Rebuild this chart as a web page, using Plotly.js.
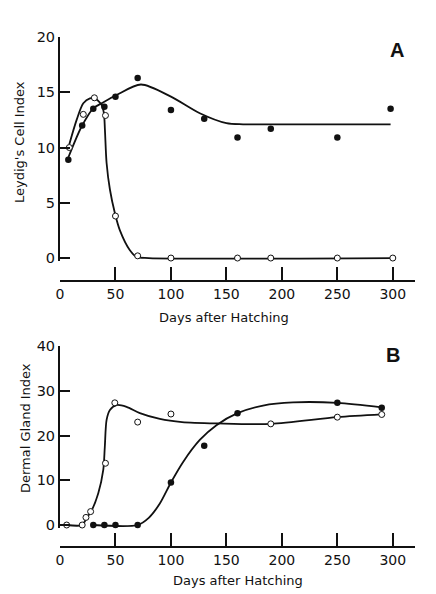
<!DOCTYPE html>
<html>
<head>
<meta charset="utf-8">
<script src="https://cdn.plot.ly/plotly-3.0.1.min.js"></script>
<style>html,body{margin:0;padding:0;background:#fff;}#chart{width:436px;height:594px;}</style>
</head>
<body>
<div id="chart"></div>
<script>
// ---- Panel A: Leydig's cell index ----
const daysAFilled = [7.5, 20, 30, 40, 50, 70, 100, 130, 160, 190, 250, 298];
const leydigFilled = [8.9, 12.0, 13.5, 13.7, 14.6, 16.3, 13.4, 12.6, 10.9, 11.7, 10.9, 13.5];
const daysAOpen = [8.4, 21, 31, 41, 50, 70, 100, 160, 190, 250, 300];
const leydigOpen = [10.0, 13.0, 14.5, 12.9, 3.8, 0.2, 0, 0, 0, 0, 0];
// hand-drawn fit curves (knots)
const fitAFilledX = [7.5, 19.5, 30, 37.5, 51, 73, 100, 126, 150, 165, 200, 298];
const fitAFilledY = [9.1, 11.9, 13.55, 14.0, 14.75, 15.7, 14.6, 13.1, 12.2, 12.1, 12.1, 12.1];
const fitAOpenX = [8.4, 15, 21, 27, 31.5, 37.5, 39.6, 40.5, 42, 45, 49.5, 54, 63, 69, 80, 300];
const fitAOpenY = [10.3, 12.5, 14.0, 14.45, 14.45, 13.85, 13.1, 11.6, 8.6, 6.2, 4.05, 2.5, 0.7, 0.1, 0, 0];

// ---- Panel B: Dermal gland index ----
const daysBFilled = [30, 40, 50, 70, 100, 130, 160, 250, 290];
const glandFilled = [0, 0, 0, 0, 9.5, 17.7, 25.0, 27.3, 26.2];
const daysBOpen = [6, 20, 23.4, 27.6, 41, 49.4, 70, 100, 190, 250, 290];
const glandOpen = [0, 0, 1.7, 3.0, 13.8, 27.3, 23.0, 24.8, 22.6, 24.1, 24.7];
const fitBFilledX = [30, 70, 80, 90, 100, 111, 126, 141, 160, 183, 210, 250, 290];
const fitBFilledY = [0, 0, 1.6, 4.8, 9.5, 14.1, 19.0, 22.3, 25.0, 26.7, 27.4, 27.3, 26.3];
const fitBOpenX = [6, 20, 24, 28, 34.5, 39, 40.4, 42, 45, 51, 60, 72, 90, 110, 142, 190, 250, 290];
const fitBOpenY = [0, 0, 1.6, 3.0, 7.1, 12.3, 17.5, 23.5, 25.7, 26.8, 26.4, 25.0, 23.7, 23.0, 22.7, 22.6, 24.1, 24.7];

const xTicks = [0, 50, 100, 150, 200, 250, 300];
const yTicksA = [0, 5, 10, 15, 20];
const yTicksB = [0, 10, 20, 30, 40];

const W = 436, H = 594;
const FONT = 'DejaVu Sans, sans-serif';
const black = '#111';

function fit(x, y, xa, ya) {
  return {x: x, y: y, xaxis: xa, yaxis: ya, mode: 'lines', cliponaxis: false,
    line: {color: black, width: 1.8, shape: 'spline', smoothing: 0.8}, hoverinfo: 'skip'};
}
function pts(x, y, xa, ya, filled) {
  return {x: x, y: y, xaxis: xa, yaxis: ya, mode: 'markers', cliponaxis: false,
    marker: {size: filled ? 6.5 : 6, color: filled ? black : '#fff',
      line: {color: black, width: filled ? 0 : 1}}};
}

const data = [
  fit(fitAFilledX, fitAFilledY, 'x', 'y'),
  fit(fitAOpenX, fitAOpenY, 'x', 'y'),
  pts(daysAFilled, leydigFilled, 'x', 'y', true),
  pts(daysAOpen, leydigOpen, 'x', 'y', false),
  fit(fitBFilledX, fitBFilledY, 'x2', 'y2'),
  fit(fitBOpenX, fitBOpenY, 'x2', 'y2'),
  pts(daysBFilled, glandFilled, 'x2', 'y2', true),
  pts(daysBOpen, glandOpen, 'x2', 'y2', false)
];

function xaxis(posPx) {
  return {domain: [60 / W, 415 / W], range: [0, 320], anchor: 'free', position: 1 - posPx / H,
    showline: true, linewidth: 2, linecolor: black, ticks: 'inside', ticklen: 13, tickwidth: 2,
    tickcolor: black, tickvals: xTicks, showgrid: false, zeroline: false,
    tickfont: {family: FONT, size: 14, color: black}};
}
function yaxis(top, bottom, range, tv, anchor) {
  return {domain: [1 - bottom / H, 1 - top / H], range: range, anchor: anchor,
    showline: true, linewidth: 2, linecolor: black, ticks: 'inside', ticklen: 10, tickwidth: 2,
    tickcolor: black, tickvals: tv, showgrid: false, zeroline: false,
    tickfont: {family: FONT, size: 14.5, color: black}};
}

const ann = (text, x, y, size, bold, angle) => ({
  text: bold ? '<b>' + text + '</b>' : text, xref: 'paper', yref: 'paper',
  x: x / W, y: 1 - y / H, xanchor: 'center', yanchor: 'middle', showarrow: false,
  textangle: angle || 0, font: {family: bold ? 'Liberation Sans, Arial, sans-serif' : FONT, size: size, color: black}
});

const layout = {
  width: W, height: H, margin: {l: 0, r: 0, t: 0, b: 0},
  paper_bgcolor: '#fff', plot_bgcolor: '#fff', showlegend: false,
  xaxis: xaxis(281),
  yaxis: yaxis(37, 260.8, [-0.25, 20], yTicksA, 'x'),
  xaxis2: xaxis(547),
  yaxis2: yaxis(346, 527.7, [-0.6, 40], yTicksB, 'x2'),
  annotations: [
    ann('Days after Hatching', 224, 317, 13),
    ann('Days after Hatching', 238, 580, 13),
    ann("Leydig's Cell Index", 19, 142, 13, false, -90),
    ann('Dermal Gland Index', 25, 428, 13, false, -90),
    ann('A', 397, 50, 20, true),
    ann('B', 393, 355, 20, true)
  ]
};

Plotly.newPlot('chart', data, layout, {staticPlot: true, displayModeBar: false});
</script>
</body>
</html>
